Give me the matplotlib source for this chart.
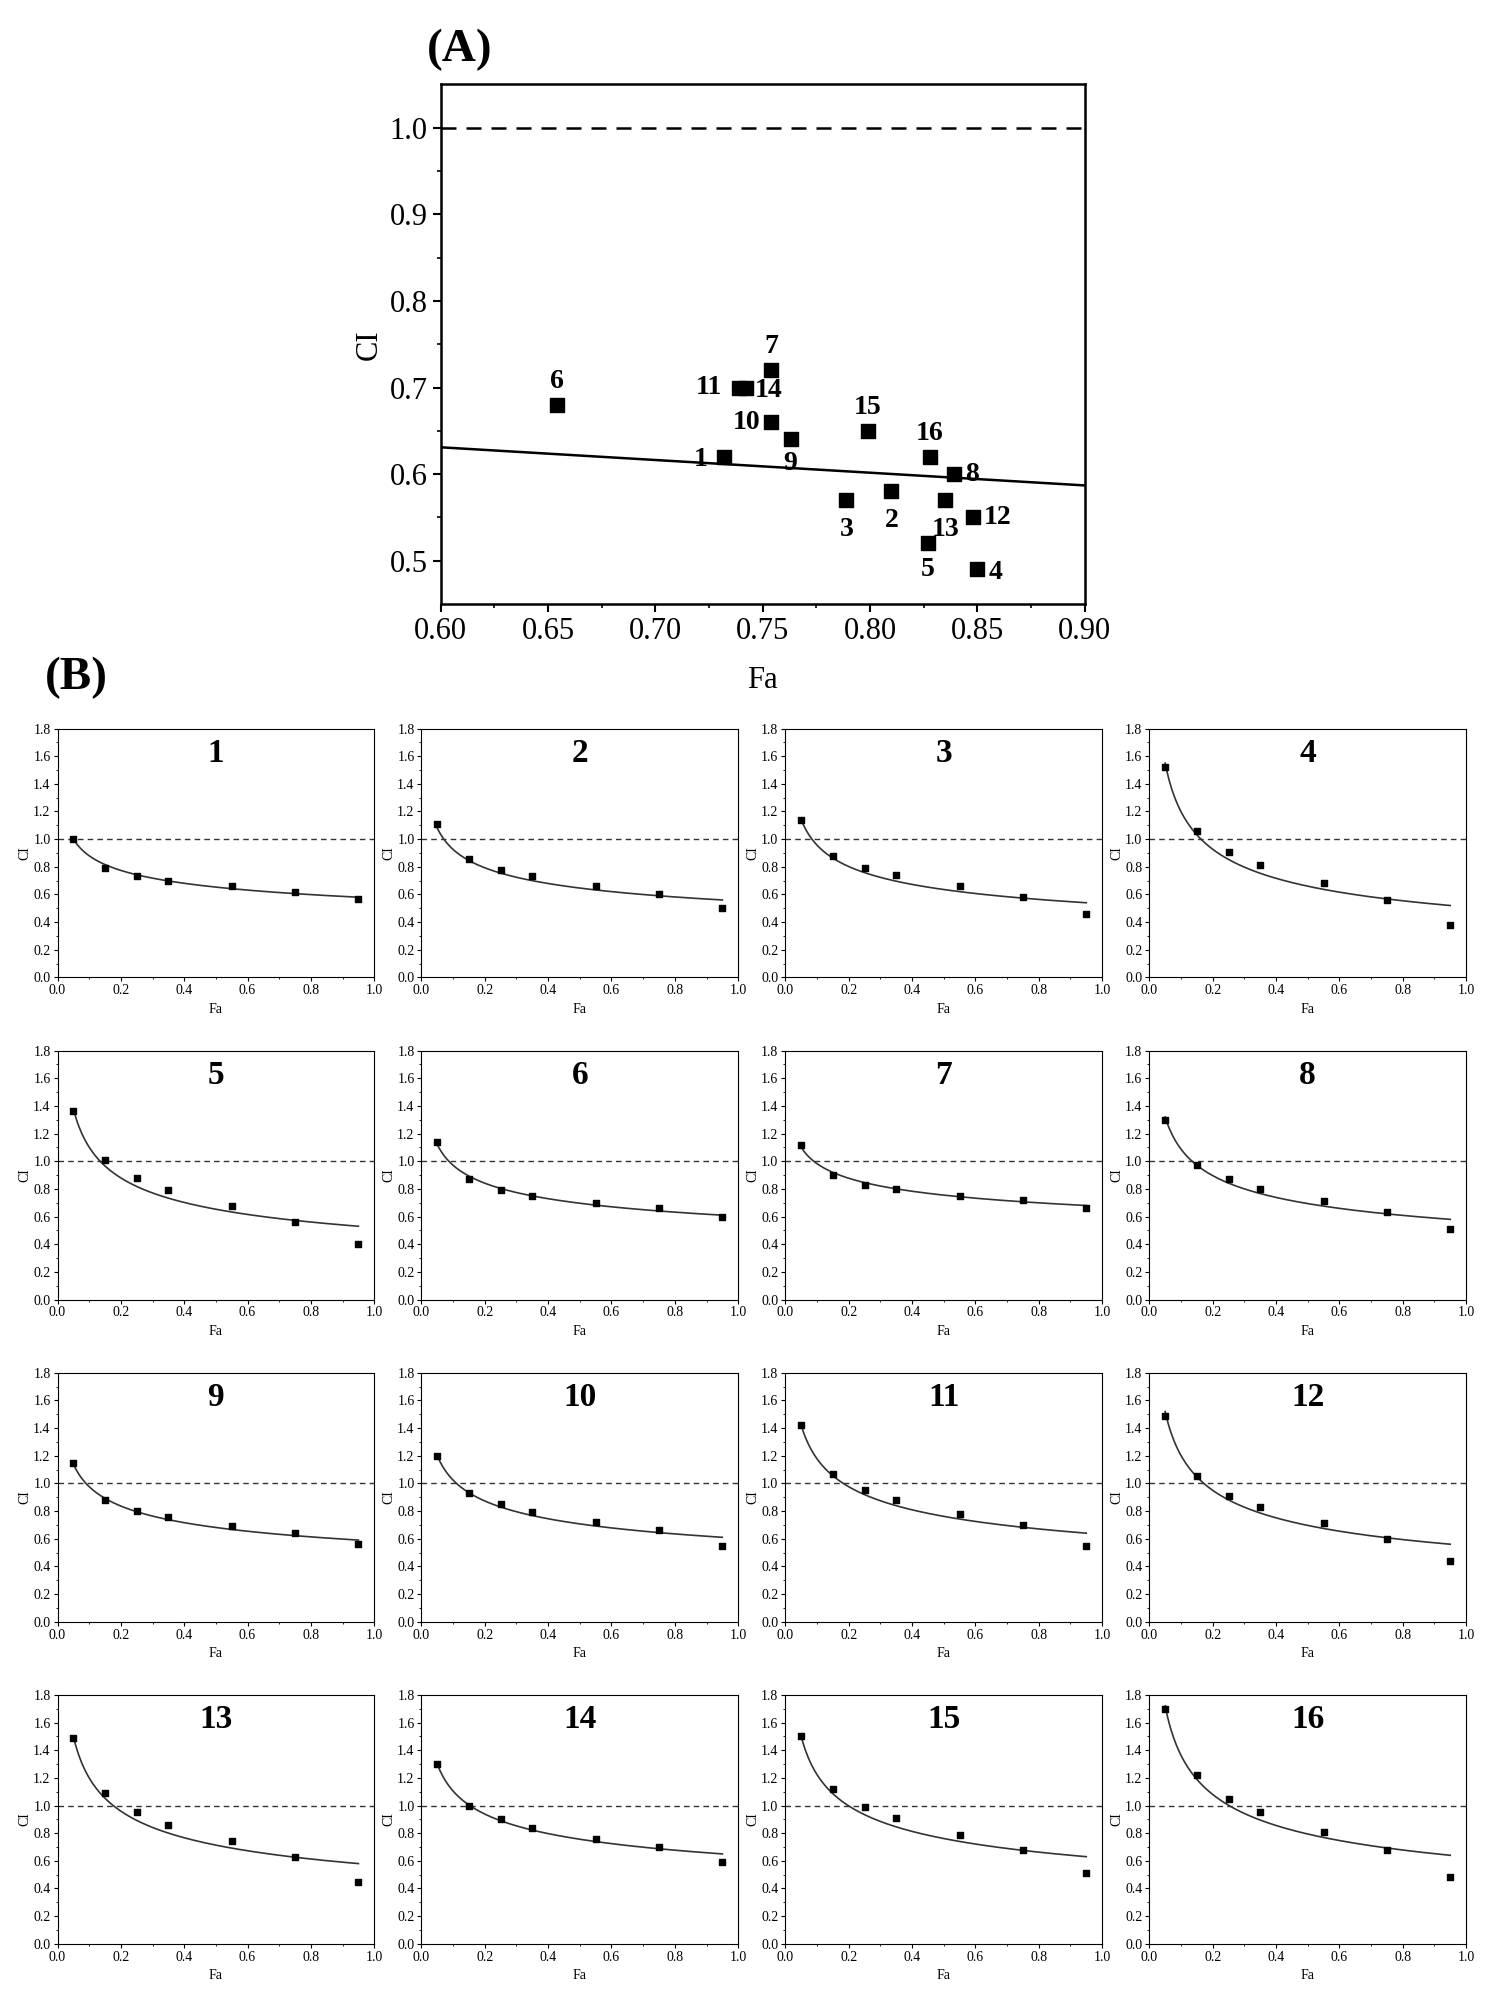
import numpy as np
import matplotlib.pyplot as plt

plt.rcParams['font.family'] = ['Liberation Serif', 'DejaVu Serif']

# ---- panel A data ----
combo_ids = ['1', '2', '3', '4', '5', '6', '7', '8', '9', '10', '11', '12', '13', '14', '15', '16']
fa_a = [0.732, 0.810, 0.789, 0.850, 0.827, 0.654, 0.754, 0.839, 0.763, 0.754, 0.739, 0.848, 0.835, 0.742, 0.799, 0.828]
ci_a = [0.62, 0.58, 0.57, 0.49, 0.52, 0.68, 0.72, 0.60, 0.64, 0.66, 0.70, 0.55, 0.57, 0.70, 0.65, 0.62]
trend_x = [0.60, 0.90]
trend_y = [0.631, 0.587]

# ---- panel B data ----
fa_b = [0.05, 0.15, 0.25, 0.35, 0.55, 0.75, 0.95]
ci_b = [
    [1.00, 0.79, 0.73, 0.70, 0.66, 0.62, 0.57],
    [1.11, 0.86, 0.78, 0.73, 0.66, 0.60, 0.50],
    [1.14, 0.88, 0.79, 0.74, 0.66, 0.58, 0.46],
    [1.52, 1.06, 0.91, 0.81, 0.68, 0.56, 0.38],
    [1.36, 1.01, 0.88, 0.79, 0.68, 0.56, 0.40],
    [1.14, 0.87, 0.79, 0.75, 0.70, 0.66, 0.60],
    [1.12, 0.90, 0.83, 0.80, 0.75, 0.72, 0.66],
    [1.30, 0.97, 0.87, 0.80, 0.71, 0.63, 0.51],
    [1.15, 0.88, 0.80, 0.76, 0.69, 0.64, 0.56],
    [1.20, 0.93, 0.85, 0.79, 0.72, 0.66, 0.55],
    [1.42, 1.07, 0.95, 0.88, 0.78, 0.70, 0.55],
    [1.49, 1.05, 0.91, 0.83, 0.71, 0.60, 0.44],
    [1.49, 1.09, 0.95, 0.86, 0.74, 0.63, 0.45],
    [1.30, 1.00, 0.90, 0.84, 0.76, 0.70, 0.59],
    [1.50, 1.12, 0.99, 0.91, 0.79, 0.68, 0.51],
    [1.70, 1.22, 1.05, 0.95, 0.81, 0.68, 0.48],
]
# fitted curve CI at Fa=0.05 and Fa=0.95 (power-law fit)
fit_start = [1.00, 1.08, 1.14, 1.55, 1.38, 1.12, 1.10, 1.32, 1.14, 1.20, 1.42, 1.52, 1.50, 1.30, 1.50, 1.72]
fit_end = [0.58, 0.56, 0.54, 0.52, 0.53, 0.61, 0.68, 0.58, 0.59, 0.61, 0.64, 0.56, 0.58, 0.65, 0.63, 0.64]

fig = plt.figure(figsize=(14.94, 20.07), dpi=100)

# label offsets (points) for panel A
offsets = {'1': (-12, -2, 'right', 'center'), '2': (0, -12, 'center', 'top'), '3': (0, -12, 'center', 'top'),
           '4': (8, -2, 'left', 'center'), '5': (0, -10, 'center', 'top'), '6': (0, 8, 'center', 'bottom'),
           '7': (0, 8, 'center', 'bottom'), '8': (8, 0, 'left', 'center'), '9': (0, -8, 'center', 'top'),
           '10': (-8, 0, 'right', 'center'), '11': (-12, 0, 'right', 'center'), '12': (8, 0, 'left', 'center'),
           '13': (0, -12, 'center', 'top'), '14': (7, -2, 'left', 'center'), '15': (0, 8, 'center', 'bottom'),
           '16': (0, 8, 'center', 'bottom')}

ax = fig.add_axes([0.295, 0.699, 0.431, 0.259])
ax.plot(trend_x, trend_y, color='black', lw=1.8)
ax.axhline(1.0, color='black', ls='--', lw=1.8, dashes=(6, 4))
ax.scatter(fa_a, ci_a, marker='s', s=110, color='black', zorder=3)
for name, x, y in zip(combo_ids, fa_a, ci_a):
    dx, dy, ha, va = offsets[name]
    ax.annotate(name, (x, y), xytext=(dx, dy), textcoords='offset points', ha=ha, va=va,
                fontsize=20, fontweight='bold')
ax.set_xlim(0.6, 0.9)
ax.set_ylim(0.45, 1.05)
ax.set_xticks([0.60, 0.65, 0.70, 0.75, 0.80, 0.85, 0.90])
ax.set_xticklabels(['0.60', '0.65', '0.70', '0.75', '0.80', '0.85', '0.90'])
ax.set_yticks([0.5, 0.6, 0.7, 0.8, 0.9, 1.0])
ax.set_xticks(np.arange(0.625, 0.9, 0.05), minor=True)
ax.set_yticks(np.arange(0.55, 1.05, 0.1), minor=True)
ax.tick_params(labelsize=22, direction='out', length=6, width=1.5)
ax.tick_params(which='minor', length=3, width=1.2)
ax.set_xlabel('Fa', fontsize=22, labelpad=14)
ax.set_ylabel('CI', fontsize=22)
for s in ax.spines.values():
    s.set_linewidth(1.8)
fig.text(0.286, 0.975, '(A)', fontsize=34, fontweight='bold', ha='left', va='center')
fig.text(0.030, 0.662, '(B)', fontsize=34, fontweight='bold', ha='left', va='center')

xs = np.linspace(0.05, 0.95, 200)
for i in range(16):
    r, c = divmod(i, 4)
    axb = fig.add_axes([0.0385 + c * 0.2436, 0.513 - r * 0.1605, 0.212, 0.124])
    b = np.log(fit_end[i] / fit_start[i]) / np.log(0.95 / 0.05)
    axb.plot(xs, fit_start[i] * (xs / 0.05) ** b, color='#333333', lw=1.2)
    axb.axhline(1.0, color='#333333', ls='--', lw=1.0, dashes=(4, 3))
    axb.scatter(fa_b, ci_b[i], marker='s', s=18, color='black', zorder=3)
    axb.set_xlim(0, 1)
    axb.set_ylim(0, 1.8)
    axb.set_xticks(np.arange(0, 1.01, 0.2))
    axb.set_yticks(np.arange(0, 1.81, 0.2))
    axb.set_xticks(np.arange(0.1, 1.0, 0.2), minor=True)
    axb.set_yticks(np.arange(0.1, 1.8, 0.2), minor=True)
    axb.xaxis.set_major_formatter(plt.FormatStrFormatter('%.1f'))
    axb.yaxis.set_major_formatter(plt.FormatStrFormatter('%.1f'))
    axb.tick_params(labelsize=10, length=3, width=0.8, pad=2)
    axb.tick_params(which='minor', length=1.5)
    axb.set_xlabel('Fa', fontsize=10, labelpad=4)
    axb.set_ylabel('CI', fontsize=10, labelpad=1)
    axb.text(0.5, 0.9, combo_ids[i], transform=axb.transAxes, ha='center', va='center',
             fontsize=24, fontweight='bold')

fig.savefig('out.png', dpi=100)
